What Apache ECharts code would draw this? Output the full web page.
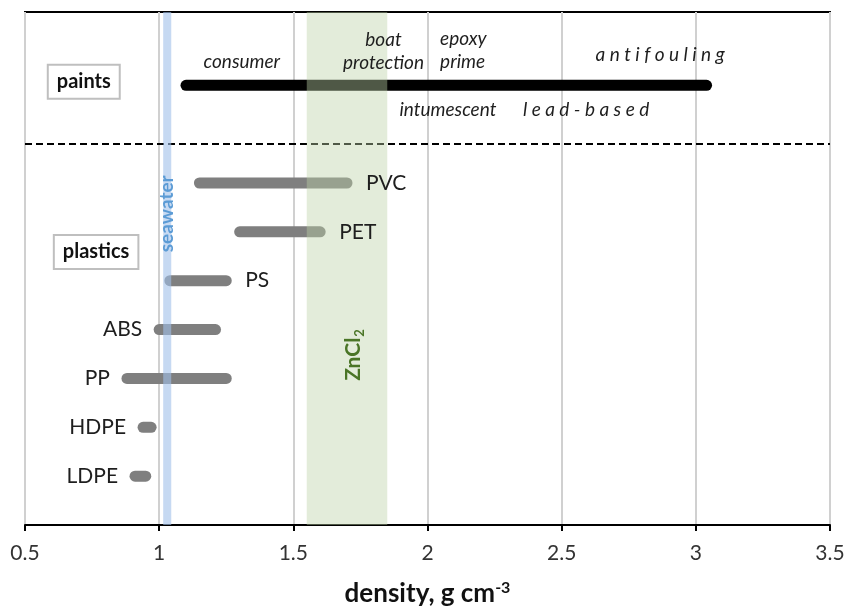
<!DOCTYPE html>
<html>
<head>
<meta charset="utf-8">
<script src="https://cdn.jsdelivr.net/npm/echarts@6/dist/echarts.min.js"></script>
<style>
html,body{margin:0;padding:0;background:#fff;}
#chart{width:845px;height:608px;}
</style>
</head>
<body>
<div id="chart"></div>
<script>
// ---- data ----
const xTicks = [0.5, 1, 1.5, 2, 2.5, 3, 3.5];
const plasticNames = ['PVC', 'PET', 'PS', 'ABS', 'PP', 'HDPE', 'LDPE'];
const plasticMin   = [1.15, 1.30, 1.04, 1.00, 0.88, 0.94, 0.91];
const plasticMax   = [1.70, 1.60, 1.25, 1.21, 1.25, 0.97, 0.95];
const plasticLabelSide = ['right', 'right', 'right', 'left', 'left', 'left', 'left'];
const paintRange = [1.10, 3.04];
const seawaterRange = [1.015, 1.045];
const zncl2Range = [1.55, 1.85];
const paintLabels = ['consumer', 'boat\nprotection', 'epoxy\nprime', 'antifouling', 'intumescent', 'lead-based'];

const FONT = 'Lato, "Open Sans", "DejaVu Sans", sans-serif';
const chart = echarts.init(document.getElementById('chart'), null, {renderer: 'canvas'});

const nRows = plasticNames.length;
const paintRow = nRows + 2;        // row for the paints bar
const separatorRow = nRows + 0.8;  // dashed separator

const barData = plasticNames.map((n, i) => [plasticMin[i], plasticMax[i], nRows - i, n, plasticLabelSide[i], 0]);
barData.push([paintRange[0], paintRange[1], paintRow, '', 'none', 1]);

// annotation placements (data coords) with styles
const annots = [
  {text: paintLabels[0], x: 1.308, y: 9.48, align: 'center'},
  {text: paintLabels[1], x: 1.836, y: 9.69, align: 'center'},
  {text: paintLabels[2], x: 2.047, y: 9.72, align: 'left'},
  {text: paintLabels[3].split('').join(' '), x: 2.867, y: 9.62, align: 'center'},
  {text: paintLabels[4], x: 2.076, y: 8.49, align: 'center'},
  {text: paintLabels[5].split('').join(' '), x: 2.591, y: 8.49, align: 'center'}
];

function barItem(params, api) {
  const y = api.value(2);
  const s = api.coord([api.value(0), y]);
  const e = api.coord([api.value(1), y]);
  const isPaint = api.value(5) === 1;
  return {
    type: 'line',
    shape: {x1: s[0], y1: s[1], x2: e[0], y2: e[1]},
    style: {stroke: isPaint ? '#000000' : '#7f7f7f', lineWidth: 11, lineCap: 'round'}
  };
}

function barLabelItem(params, api) {
  const y = api.value(2);
  const s = api.coord([api.value(0), y]);
  const e = api.coord([api.value(1), y]);
  const side = api.value(4);
  if (side !== 'right' && side !== 'left') return null;
  return {
    type: 'text',
    x: side === 'right' ? e[0] + 19 : s[0] - 17,
    y: s[1],
    style: {
      text: api.value(3), fill: '#1e1e1e', font: '21px ' + FONT,
      align: side === 'right' ? 'left' : 'right', verticalAlign: 'middle'
    }
  };
}

function bandItem(params, api) {
  const cs = params.coordSys;
  const a = api.coord([api.value(0), 0])[0];
  const b = api.coord([api.value(1), 0])[0];
  return {
    type: 'rect',
    shape: {x: a, y: cs.y, width: b - a, height: cs.height},
    style: {fill: api.value(2) === 0 ? 'rgba(160,192,234,0.6)' : 'rgba(188,210,167,0.42)'}
  };
}

const option = {
  animation: false,
  backgroundColor: '#ffffff',
  grid: {left: 25, right: 15, top: 12, bottom: 83, outerBoundsMode: 'none', containLabel: false,
         show: true, borderColor: '#000', borderWidth: 2, backgroundColor: 'transparent'},
  xAxis: {
    type: 'value', min: xTicks[0], max: xTicks[xTicks.length - 1], interval: 0.5,
    axisLine: {show: true, lineStyle: {color: '#000', width: 2}},
    axisTick: {show: true, inside: false, length: 6, lineStyle: {color: '#000', width: 2}},
    axisLabel: {color: '#333', fontSize: 21, fontFamily: FONT, margin: 18},
    splitLine: {show: true, lineStyle: {color: '#d0d0d0', width: 2}},
    name: '{a|density, g cm}{s|-3}',
    nameLocation: 'middle', nameGap: 55,
    nameTextStyle: {
      rich: {
        a: {fontSize: 26, fontWeight: 'bold', color: '#111', fontFamily: FONT},
        s: {fontSize: 16, fontWeight: 'bold', color: '#111', fontFamily: FONT, verticalAlign: 'top', padding: [0, 0, 11, 0]}
      }
    }
  },
  yAxis: {type: 'value', min: 0, max: 10.5, show: false, splitLine: {show: false}},
  series: [
    {
      type: 'custom', z: 3, renderItem: barItem, data: barData, encode: {x: [0, 1], y: 2},
      markLine: {
        silent: true, symbol: 'none', label: {show: false},
        lineStyle: {color: '#000', width: 2, type: [7, 4]},
        data: [{yAxis: separatorRow}]
      }
    },
    {
      type: 'custom', z: 5, renderItem: bandItem,
      data: [[seawaterRange[0], seawaterRange[1], 0], [zncl2Range[0], zncl2Range[1], 1]],
      encode: {x: [0, 1]}
    },
    {
      type: 'custom', z: 6, renderItem: barLabelItem, data: barData, encode: {x: [0, 1], y: 2}
    },
    {
      type: 'custom', z: 6,
      data: annots.map(a => [a.x, a.y]),
      renderItem: function (params, api) {
        const a = annots[params.dataIndex];
        const p = api.coord([api.value(0), api.value(1)]);
        return {
          type: 'text', x: p[0], y: p[1],
          style: {text: a.text, fill: '#1e1e1e', font: 'italic 19px ' + FONT, align: a.align, verticalAlign: 'middle', lineHeight: 23}
        };
      }
    },
    {
      type: 'custom', z: 7,
      data: [[0.719, 9.07, 0], [0.765, 5.59, 1], [1.029, 6.37, 2], [1.722, 3.48, 3]],
      renderItem: function (params, api) {
        const p = api.coord([api.value(0), api.value(1)]);
        const k = api.value(2);
        if (k <= 1) {
          return {
            type: 'text', x: p[0], y: p[1],
            style: {
              text: k === 0 ? 'paints' : 'plastics', fill: '#111', font: 'bold 20px ' + FONT,
              align: 'center', verticalAlign: 'middle',
              backgroundColor: '#fff', borderColor: '#bfbfbf', borderWidth: 2, padding: [6, 8, 6, 8]
            }
          };
        }
        if (k === 2) {
          return {
            type: 'text', x: p[0], y: p[1], rotation: Math.PI / 2,
            style: {text: 'seawater', fill: '#5b9bd5', font: 'bold 19px ' + FONT, align: 'center', verticalAlign: 'middle'}
          };
        }
        return {
          type: 'text', x: p[0], y: p[1], rotation: Math.PI / 2,
          style: {
            text: '{a|ZnCl}{b|2}', align: 'center', verticalAlign: 'middle',
            rich: {
              a: {fill: '#4a7526', fontWeight: 'bold', fontSize: 21, fontFamily: FONT, verticalAlign: 'bottom'},
              b: {fill: '#4a7526', fontWeight: 'bold', fontSize: 13, fontFamily: FONT, verticalAlign: 'bottom', padding: [0, 0, -3, 1]}
            }
          }
        };
      }
    }
  ]
};
chart.setOption(option);
</script>
</body>
</html>
